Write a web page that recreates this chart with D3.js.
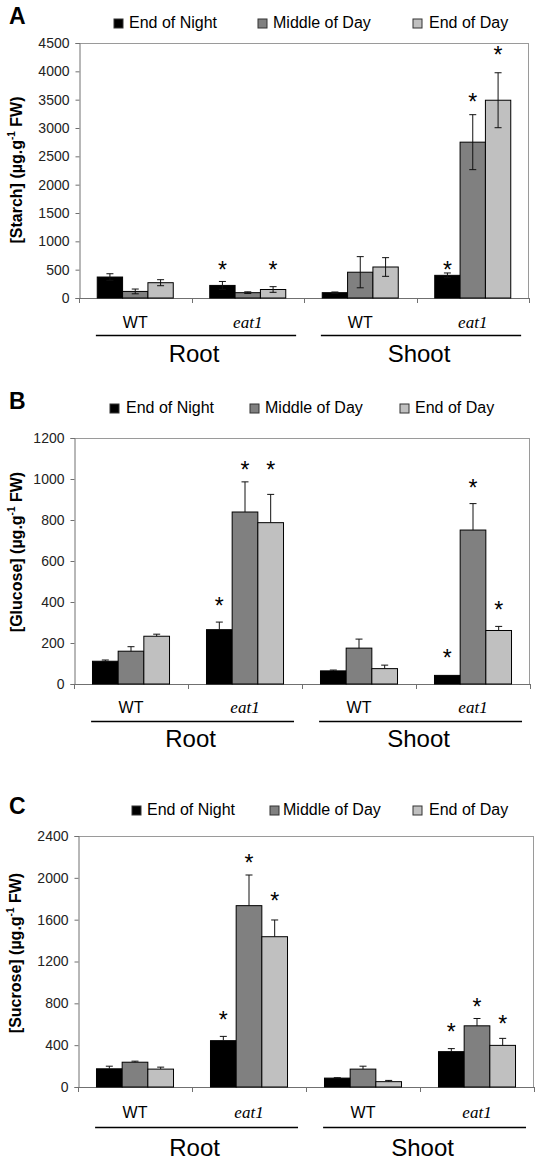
<!DOCTYPE html>
<html>
<head>
<meta charset="utf-8">
<script src="https://cdn.jsdelivr.net/npm/d3@7"></script>
<style>
  html, body { margin: 0; padding: 0; background: #fff; }
  svg { display: block; }
</style>
</head>
<body>
<div id="chart"></div>
<script>
// ---------------- DATA ----------------
const series = ["End of Night", "Middle of Day", "End of Day"];
const groupKeys = ["Root-WT", "Root-eat1", "Shoot-WT", "Shoot-eat1"];
const genotypes = ["WT", "eat1", "WT", "eat1"];
const tissues = ["Root", "Shoot"];

// Panel A: starch (µg/g FW), rows = groups, cols = series
const starchTicks = [0, 500, 1000, 1500, 2000, 2500, 3000, 3500, 4000, 4500];
const starchMean = [[370, 116, 270], [222, 94, 150], [94, 455, 547], [400, 2750, 3490]];
const starchErr = [[58, 42, 53], [70, 15, 50], [12, 275, 165], [42, 485, 485]];
const starchStars = [[null, null, null], [582, null, 582], [null, null, null], [582, 3547, 4376]];

// Panel B: glucose
const glucoseTicks = [0, 200, 400, 600, 800, 1000, 1200];
const glucoseMean = [[111, 160, 233], [265, 839, 787], [64, 175, 75], [42, 751, 261]];
const glucoseErr = [[6, 22, 10], [37, 147, 138], [4, 44, 17], [0, 129, 20]];
const glucoseStars = [[null, null, null], [403, 1068, 1068], [null, null, null], [150, 979, 385]];

// Panel C: sucrose
const sucroseTicks = [0, 400, 800, 1200, 1600, 2000, 2400];
const sucroseMean = [[174, 237, 171], [443, 1734, 1437], [85, 171, 51], [338, 585, 398]];
const sucroseErr = [[25, 10, 19], [41, 293, 160], [4, 28, 12], [29, 70, 67]];
const sucroseStars = [[null, null, null], [688, 2186, 1826], [null, null, null], [571, 810, 648]];

// ---------------- STYLE / LAYOUT ----------------
const seriesColors = ["#000000", "#808080", "#c0c0c0"];
const SANS = "'Liberation Sans', Arial, Helvetica, sans-serif";
const SERIF = "'Liberation Serif', 'Times New Roman', serif";

const panels = [
  { letter: "A", name: "Starch", mean: starchMean, err: starchErr, stars: starchStars, ticks: starchTicks, both: true,
    x0: 79, x1: 529, yTop: 43, yBot: 298, letterY: 24, legendY: 28,
    legendSq: [114, 258, 413], legendTx: [129, 273, 429], titleX: 22, titleY: 170,
    wtDy: 30, lineDy: 37, tissueDy: 64 },
  { letter: "B", name: "Glucose", mean: glucoseMean, err: glucoseErr, stars: glucoseStars, ticks: glucoseTicks, both: false,
    x0: 74, x1: 530, yTop: 438, yBot: 684, letterY: 409, legendY: 413,
    legendSq: [110, 250, 400], legendTx: [126, 265, 415], titleX: 22, titleY: 552,
    wtDy: 29, lineDy: 37, tissueDy: 63 },
  { letter: "C", name: "Sucrose", mean: sucroseMean, err: sucroseErr, stars: sucroseStars, ticks: sucroseTicks, both: false,
    x0: 78, x1: 534, yTop: 836, yBot: 1087, letterY: 814, legendY: 815,
    legendSq: [132, 270, 413], legendTx: [147, 283, 429], titleX: 21, titleY: 953,
    wtDy: 31, lineDy: 40, tissueDy: 69 }
];

const svg = d3.select("#chart").append("svg")
  .attr("width", 539).attr("height", 1160)
  .style("font-family", SANS);

panels.forEach(p => {
  const g = svg.append("g");
  const yMax = p.ticks[p.ticks.length - 1];
  const y = d3.scaleLinear().domain([0, yMax]).range([p.yBot, p.yTop]);
  const xG = d3.scaleBand().domain(groupKeys).range([p.x0, p.x1]).paddingInner(0).paddingOuter(0);
  const xS = d3.scaleBand().domain(series).range([0, xG.bandwidth()]).paddingInner(0).paddingOuter(0.72);
  const gw = xG.bandwidth();

  // panel letter
  g.append("text").attr("x", 9).attr("y", p.letterY)
    .attr("font-size", 23).attr("font-weight", "bold").attr("fill", "#000").text(p.letter);

  // legend
  series.forEach((s, i) => {
    g.append("rect").attr("x", p.legendSq[i]).attr("y", p.legendY - 9)
      .attr("width", 9).attr("height", 9)
      .attr("fill", seriesColors[i]).attr("stroke", "#333").attr("stroke-width", 1);
    g.append("text").attr("x", p.legendTx[i]).attr("y", p.legendY)
      .attr("font-size", 16).attr("fill", "#000").text(s);
  });

  // plot border (top + right)
  g.append("line").attr("x1", p.x0).attr("x2", p.x1).attr("y1", p.yTop + 0.5).attr("y2", p.yTop + 0.5)
    .attr("stroke", "#9a9a9a").attr("stroke-width", 1);
  g.append("line").attr("x1", p.x1 - 0.5).attr("x2", p.x1 - 0.5).attr("y1", p.yTop).attr("y2", p.yBot)
    .attr("stroke", "#9a9a9a").attr("stroke-width", 1);

  // y axis
  const yAxis = d3.axisLeft(y).tickValues(p.ticks).tickFormat(d3.format("d")).tickSize(4).tickPadding(6);
  const ya = g.append("g").attr("transform", `translate(${p.x0 + 0.5},0)`).call(yAxis);
  ya.select(".domain").attr("stroke", "#707070");
  ya.selectAll(".tick line").attr("stroke", "#707070");
  ya.selectAll(".tick text").attr("font-size", 14).attr("fill", "#222").attr("font-family", SANS);

  // x axis
  g.append("line").attr("x1", p.x0).attr("x2", p.x1).attr("y1", p.yBot + 0.5).attr("y2", p.yBot + 0.5)
    .attr("stroke", "#707070").attr("stroke-width", 1);
  const bounds = groupKeys.map(k => xG(k)).concat([p.x1]);
  g.selectAll(".xtick").data(bounds).enter().append("line")
    .attr("x1", d => Math.round(d) + 0.5).attr("x2", d => Math.round(d) + 0.5)
    .attr("y1", p.yBot).attr("y2", p.yBot + 5)
    .attr("stroke", "#707070");

  // bars
  groupKeys.forEach((k, gi) => {
    series.forEach((s, si) => {
      const v = p.mean[gi][si];
      const bx = xG(k) + xS(s);
      g.append("rect")
        .attr("x", bx).attr("y", y(v))
        .attr("width", xS.bandwidth()).attr("height", y(0) - y(v))
        .attr("fill", seriesColors[si]).attr("stroke", "#000").attr("stroke-width", 1);
    });
  });

  // error bars
  groupKeys.forEach((k, gi) => {
    series.forEach((s, si) => {
      const v = p.mean[gi][si], e = p.err[gi][si];
      if (!e) return;
      const cx = xG(k) + xS(s) + xS.bandwidth() / 2;
      const hi = y(v + e), lo = p.both ? y(v - e) : y(v);
      g.append("line").attr("x1", cx).attr("x2", cx).attr("y1", hi).attr("y2", lo)
        .attr("stroke", "#111").attr("stroke-width", 1);
      g.append("line").attr("x1", cx - 3.5).attr("x2", cx + 3.5).attr("y1", hi).attr("y2", hi)
        .attr("stroke", "#111").attr("stroke-width", 1);
      if (p.both) {
        g.append("line").attr("x1", cx - 3.5).attr("x2", cx + 3.5).attr("y1", lo).attr("y2", lo)
          .attr("stroke", "#111").attr("stroke-width", 1);
      }
    });
  });

  // stars
  groupKeys.forEach((k, gi) => {
    series.forEach((s, si) => {
      const st = p.stars[gi][si];
      if (st == null) return;
      const cx = xG(k) + xS(s) + xS.bandwidth() / 2;
      g.append("text").attr("x", cx).attr("y", y(st) + 13)
        .attr("text-anchor", "middle").attr("font-size", 23).attr("fill", "#000").text("*");
    });
  });

  // genotype labels
  groupKeys.forEach((k, gi) => {
    const cx = xG(k) + gw / 2;
    const t = g.append("text").attr("x", cx).attr("y", p.yBot + p.wtDy)
      .attr("text-anchor", "middle").attr("font-size", 16).attr("fill", "#000")
      .text(genotypes[gi]);
    if (genotypes[gi] !== "WT") t.attr("font-family", SERIF).attr("font-style", "italic").attr("font-size", 17);
  });

  // tissue lines and labels
  tissues.forEach((t, ti) => {
    const start = p.x0 + gw * (2 * ti + 0.15);
    const end = p.x0 + gw * (2 * ti + 1.93);
    g.append("line").attr("x1", start).attr("x2", end)
      .attr("y1", p.yBot + p.lineDy + 0.5).attr("y2", p.yBot + p.lineDy + 0.5)
      .attr("stroke", "#000").attr("stroke-width", 1.3);
    g.append("text").attr("x", (start + end) / 2 - 2).attr("y", p.yBot + p.tissueDy)
      .attr("text-anchor", "middle").attr("font-size", 24).attr("fill", "#000").text(t);
  });

  // y-axis title
  const tt = g.append("text")
    .attr("transform", `translate(${p.titleX},${p.titleY}) rotate(-90)`)
    .attr("text-anchor", "middle").attr("font-size", 16).attr("font-weight", "bold").attr("fill", "#000");
  tt.append("tspan").text(`[${p.name}] (µg.g`);
  tt.append("tspan").attr("font-size", 10).attr("dy", -7).text("-1");
  tt.append("tspan").attr("dy", 7).text(" FW)");
});
</script>
</body>
</html>
